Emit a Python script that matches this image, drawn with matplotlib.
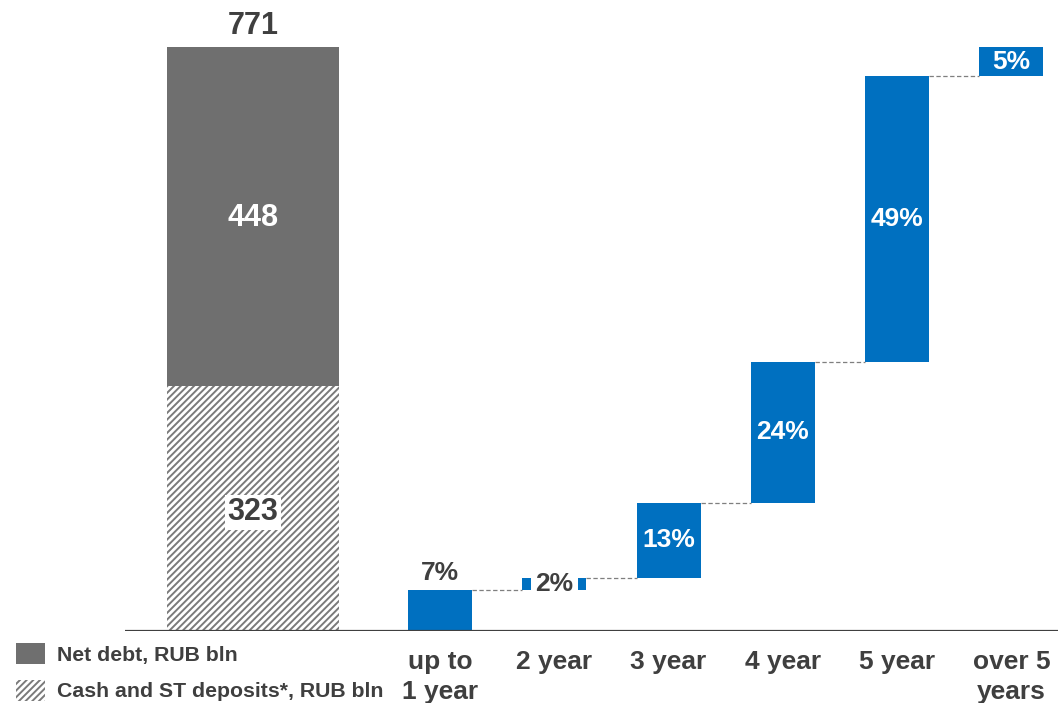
import matplotlib
matplotlib.use("Agg")
import matplotlib.pyplot as plt
from matplotlib.patches import Patch
import numpy as np

plt.rcParams['font.family'] = ['Liberation Sans', 'DejaVu Sans']
plt.rcParams['font.weight'] = 'bold'
plt.rcParams['hatch.linewidth'] = 1.4

# Debt structure
net_debt = 448
cash_deposits = 323
total_debt = net_debt + cash_deposits

# Maturity profile of the total debt, %
maturity_labels = ['up to\n1 year', '2 year', '3 year', '4 year', '5 year', 'over 5\nyears']
maturity_share = [7, 2, 13, 24, 49, 5]

legend_labels = ['Net debt, RUB bln', 'Cash and ST deposits*, RUB bln']

GRAY = '#6F6F6F'
BLUE = '#0070C0'
TEXT = '#3F3F3F'
HATCH_GRAY = '#7A7A7A'
HATCH = '/////'

fig = plt.figure(figsize=(10.58, 7.03), dpi=100)
ax = fig.add_axes([125 / 1058, 72 / 703, 933 / 1058, 631 / 703])
ax.set_xlim(0, 8.163)
ax.set_ylim(0, 833)
ax.axis('off')

# Stacked debt bar
debt_x = 1.12
debt_w = 1.51
ax.bar(debt_x, cash_deposits, width=debt_w, color='white', edgecolor=HATCH_GRAY,
       linewidth=0, hatch=HATCH)
ax.bar(debt_x, net_debt, bottom=cash_deposits, width=debt_w, color=GRAY, linewidth=0)

ax.text(debt_x, total_debt + 28, f'{total_debt}', ha='center', va='center',
        fontsize=22, color=TEXT, fontweight='bold')
ax.text(debt_x, cash_deposits + net_debt / 2 - 2, f'{net_debt}', ha='center', va='center',
        fontsize=22, color='white', fontweight='bold')
ax.text(debt_x, cash_deposits / 2 - 5, f'{cash_deposits}', ha='center', va='center',
        fontsize=22, color=TEXT, fontweight='bold',
        bbox=dict(facecolor='white', edgecolor='none', pad=2))

# Waterfall of maturities, scaled to the total debt
wf_x = 2.756 + np.arange(len(maturity_share))
wf_w = 0.56
share = np.array(maturity_share, dtype=float)
heights = share / 100.0 * total_debt
bottoms = np.concatenate([[0], np.cumsum(heights)[:-1]])
tops = bottoms + heights

ax.bar(wf_x, heights, bottom=bottoms, width=wf_w, color=BLUE, linewidth=0)

# Dashed connectors between consecutive bars
for i in range(len(share) - 1):
    ax.plot([wf_x[i] + wf_w / 2, wf_x[i + 1] - wf_w / 2], [tops[i], tops[i]],
            color='#7F7F7F', lw=0.9, dashes=(3.5, 2), zorder=1)

for i, (x, b, h, s) in enumerate(zip(wf_x, bottoms, heights, share)):
    lab = f'{s:.0f}%'
    if i == 0:
        ax.text(x, b + h + 22, lab, ha='center', va='center', fontsize=19,
                color=TEXT, fontweight='bold')
    elif h < 20:
        ax.text(x, b + h / 2, lab, ha='center', va='center', fontsize=19,
                color=TEXT, fontweight='bold', zorder=3,
                bbox=dict(facecolor='white', edgecolor='none', pad=3))
    else:
        ax.text(x, b + h / 2, lab, ha='center', va='center', fontsize=19,
                color='white', fontweight='bold')

# Category labels under the axis
for x, lab in zip(wf_x, maturity_labels):
    ax.annotate(lab, xy=(x, 0), xytext=(0, -14), textcoords='offset points',
                ha='center', va='top', fontsize=19, color=TEXT,
                fontweight='bold', linespacing=1.3, annotation_clip=False)

# Baseline
ax.axhline(0, color='#404040', lw=1.6, zorder=4)

# Legend
handles = [Patch(facecolor=GRAY, edgecolor='none'),
           Patch(facecolor='white', edgecolor=HATCH_GRAY, linewidth=0, hatch=HATCH)]
leg = fig.legend(handles, legend_labels, loc='upper left',
                 bbox_to_anchor=(16 / 1058, 1 - 643 / 703), frameon=False,
                 prop=dict(size=15.3, weight='bold'), handlelength=1.38,
                 handleheight=1.15, handletextpad=0.55, labelspacing=0.7,
                 borderpad=0, borderaxespad=0)
for t in leg.get_texts():
    t.set_color(TEXT)

fig.savefig('out.png', dpi=100)
